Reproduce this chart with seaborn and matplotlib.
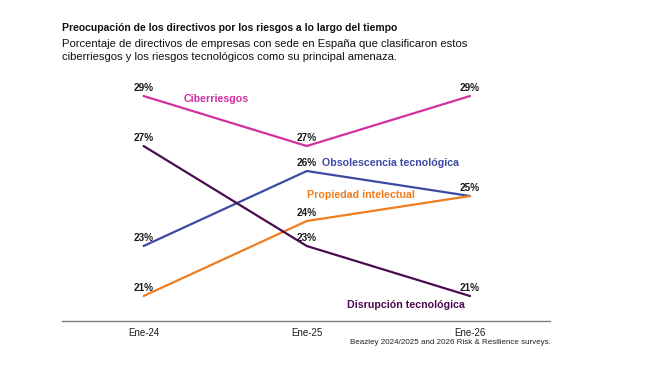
import matplotlib
matplotlib.use("Agg")
import matplotlib.pyplot as plt
import seaborn as sns
import pandas as pd

periods = ["Ene-24", "Ene-25", "Ene-26"]
ciberriesgos = [29, 27, 29]
obsolescencia = [23, 26, 25]
propiedad = [21, 24, 25]
disrupcion = [27, 23, 21]

series_names = ["Ciberriesgos", "Obsolescencia tecnológica",
                "Propiedad intelectual", "Disrupción tecnológica"]
colors = ["#d22f9f", "#3d4aa4", "#ef7d1e", "#4a0c50"]

title = "Preocupación de los directivos por los riesgos a lo largo del tiempo"
subtitle = ("Porcentaje de directivos de empresas con sede en España que clasificaron estos\n"
            "ciberriesgos y los riesgos tecnológicos como su principal amenaza.")
source = "Beazley 2024/2025 and 2026 Risk & Resilience surveys."

rows = []
for name, vals in zip(series_names, [ciberriesgos, obsolescencia, propiedad, disrupcion]):
    for i, v in enumerate(vals):
        rows.append({"pos": i, "periodo": periods[i], "serie": name, "valor": v})
df = pd.DataFrame(rows)

sns.set_style("white")
plt.rcParams["font.family"] = ["Liberation Sans", "DejaVu Sans"]

fig = plt.figure(figsize=(6.45, 3.67), dpi=100)
ax = fig.add_axes([0.0961, 0.1253, 0.7566, 0.6335])

sns.lineplot(data=df, x="pos", y="valor", hue="serie", palette=colors,
             hue_order=series_names, linewidth=1.6, legend=False, ax=ax)

# value labels (one per distinct point, the two series meeting at 25% share one)
for _, r in df.drop_duplicates(["pos", "valor"]).iterrows():
    ax.annotate(f"{r['valor']}%", (r["pos"], r["valor"]), xytext=(0, 2),
                textcoords="offset points", ha="center", va="bottom",
                fontsize=7.2, fontweight="bold", color="#1a1a1a")

# series labels
label_pos = {"Ciberriesgos": (0.245, 28.88),
             "Obsolescencia tecnológica": (1.095, 26.32),
             "Propiedad intelectual": (1.0, 25.04),
             "Disrupción tecnológica": (1.248, 20.64)}
for name, c in zip(series_names, colors):
    x, y = label_pos[name]
    ax.text(x, y, name, color=c, fontsize=7.7, fontweight="bold",
            ha="left", va="center")

ax.set_xlim(-0.5, 2.49)
ax.set_ylim(20, 29.3)
ax.set_xticks(range(len(periods)))
ax.set_xticklabels(periods, fontsize=7, color="#1a1a1a")
ax.set_yticks([])
ax.set_xlabel("")
ax.set_ylabel("")
ax.tick_params(axis="x", length=0, pad=5)
for s in ["top", "right", "left"]:
    ax.spines[s].set_visible(False)
ax.spines["bottom"].set_color("#808080")
ax.spines["bottom"].set_linewidth(1.0)

fig.text(0.096, 0.924, title, fontsize=7.5, fontweight="bold", color="#111111",
         ha="left", va="center")
fig.text(0.096, 0.862, subtitle, fontsize=8.1, color="#111111",
         ha="left", va="center", linespacing=1.35)
fig.text(0.854, 0.068, source, fontsize=5.8, color="#222222",
         ha="right", va="center")

fig.savefig("out.png", dpi=100)
